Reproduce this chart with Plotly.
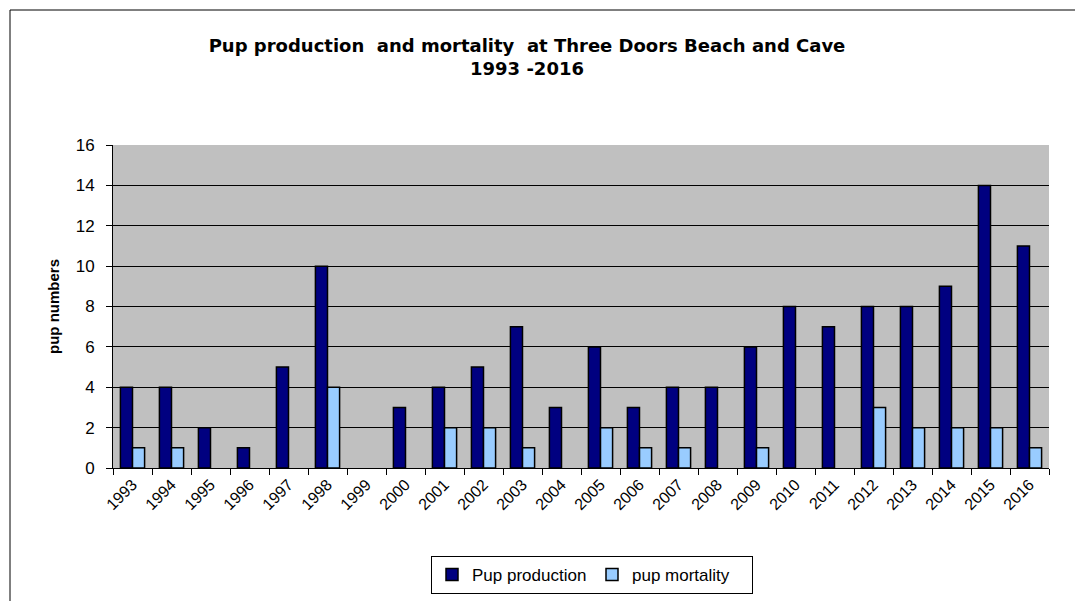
import plotly.graph_objects as go

years = [str(y) for y in range(1993, 2017)]
pup_production = [4, 4, 2, 1, 5, 10, 0, 3, 4, 5, 7, 3, 6, 3, 4, 4, 6, 8, 7, 8, 8, 9, 14, 11]
pup_mortality = [1, 1, 0, 0, 0, 4, 0, 0, 2, 2, 1, 0, 2, 1, 1, 0, 1, 0, 0, 3, 2, 2, 2, 1]

# the page body adds an 8px offset, so the figure is a little smaller than the window
OFF = 8
W, H = 1083 - OFF, 601 - OFF
L, R, T, B = 113 - OFF, 34, 145 - OFF, 133
pw, ph = W - L - R, H - T - B

def px_x(p):
    return (p - OFF - L) / pw

def px_y(p):
    return (H - B - (p - OFF)) / ph

# zero values are not drawn in the original chart
prod = [v if v else None for v in pup_production]
mort = [v if v else None for v in pup_mortality]

fig = go.Figure()
fig.add_trace(go.Bar(x=years, y=prod, name="Pup production",
                     marker=dict(color="#000080", line=dict(color="black", width=1.5))))
fig.add_trace(go.Bar(x=years, y=mort, name="pup mortality",
                     marker=dict(color="#99CCFF", line=dict(color="black", width=1.5))))

fig.update_layout(
    width=W, height=H,
    margin=dict(l=L, r=R, t=T, b=B),
    paper_bgcolor="white",
    plot_bgcolor="#C0C0C0",
    barmode="group",
    bargap=0.38,
    bargroupgap=0,
    font=dict(family="Liberation Sans, Arial", color="black", size=16),
    title=dict(text="<b>Pup production  and mortality  at Three Doors Beach and Cave<br>1993 -2016</b>",
               x=(527 - OFF) / W, xanchor="center", y=1 - (52 - OFF) / H, yanchor="top",
               font=dict(size=18, family="DejaVu Sans")),
    showlegend=True,
    legend=dict(orientation="h", xref="container", yref="container",
                x=(592 - OFF) / W, xanchor="center", y=1 - (575 - OFF) / H, yanchor="middle",
                bordercolor="black", borderwidth=1, bgcolor="white",
                font=dict(size=17), itemwidth=30, traceorder="normal",
                tracegroupgap=0, entrywidth=115),
    xaxis=dict(type="category", tickangle=-45, tickson="boundaries", ticks="outside",
               ticklen=6, tickcolor="black", showline=True, linecolor="black", linewidth=1,
               showgrid=False, tickfont=dict(size=16), automargin=False),
    yaxis=dict(range=[0, 16], dtick=2, ticks="outside", ticklen=6, tickcolor="black",
               showline=True, linecolor="black", linewidth=1, gridcolor="black", gridwidth=1,
               zeroline=False, tickfont=dict(size=17), automargin=False, ticklabelstandoff=8,
               title=dict(text="<b>pup numbers</b>", font=dict(size=15), standoff=12)),
)

# outer chart frame
fig.add_shape(type="rect", xref="paper", yref="paper",
              x0=px_x(10), x1=px_x(1100), y0=px_y(620), y1=px_y(10),
              line=dict(color="black", width=1), fillcolor="rgba(0,0,0,0)", layer="below")

fig.write_html("out.html")
